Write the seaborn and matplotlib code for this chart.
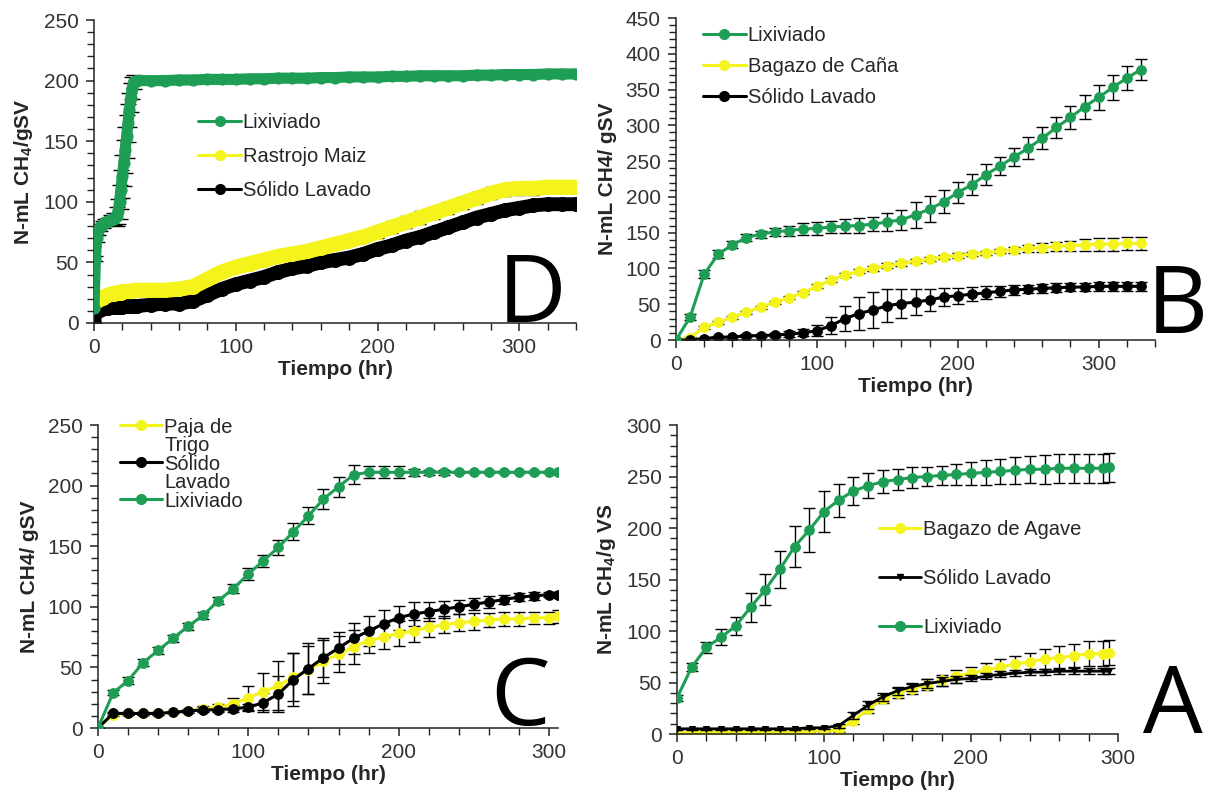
import matplotlib
matplotlib.use("Agg")
import matplotlib.pyplot as plt
from matplotlib.lines import Line2D
from matplotlib.ticker import MultipleLocator
import numpy as np
import pandas as pd
import seaborn as sns

# ---------------- Panel D: Rastrojo de maíz ----------------
d_time = [0, 1, 2, 3, 4, 6, 8, 10, 12, 14, 16, 17, 18, 19, 20, 21, 22, 23, 24, 25, 26, 27, 28, 30,
          40, 50, 60, 70, 80, 90, 100, 110, 120, 130, 140, 150, 160, 170, 180, 190, 200, 210,
          220, 230, 240, 250, 260, 270, 280, 290, 300, 310, 320, 330, 340]
d_lix = [12, 53, 70, 76, 79, 81, 83, 84, 85, 86, 88, 92, 100, 110, 121, 132, 143, 154, 165, 176, 186, 194, 199, 200,
         200, 200, 200.5, 200.5, 201, 201, 201, 201.5, 201.5, 202, 202, 202, 202.5, 202.5, 203, 203, 203, 203.5,
         203.5, 204, 204, 204, 204, 204.5, 204.5, 205, 205, 205, 205.5, 205.5, 205.5]
d_lix_err = [0, 2, 3, 3, 3, 3, 3, 3, 4, 5, 8, 10, 14, 16, 18, 19, 19, 18, 16, 14, 12, 9, 6, 2,
             1, 1, 1, 1, 1, 1, 1, 1, 1, 1, 1, 1, 1, 1, 1, 1, 1, 1,
             1, 1, 1, 1, 1, 1, 1, 1, 1, 1, 1, 1, 1]
d_maiz = [15, 17, 18, 19, 20, 21, 22, 23, 24, 24, 25, 25, 25, 25, 26, 26, 26, 26, 26, 26, 26, 26, 27, 27,
          27, 27, 28, 30, 36, 42, 46, 49, 52, 55, 57, 59, 62, 65, 68, 71, 75, 79,
          83, 87, 91, 95, 99, 103, 107, 110, 111, 111, 112, 112, 112]
d_maiz_err = [0, 1, 1, 1, 1, 1, 1, 1, 1, 1, 1, 1, 1, 1, 1, 1, 1, 1, 1, 1, 1, 1, 1, 1,
              1, 1, 1, 1, 1, 1, 1, 1, 1, 1, 1, 1, 1, 1, 2, 4, 5, 5,
              5, 5, 5, 5, 5, 5, 5, 5, 5, 5, 5, 5, 5]
d_solido = [0, 9, 10, 11, 11, 12, 12, 12, 13, 13, 13, 13, 13, 13, 13, 14, 14, 14, 14, 14, 14, 14, 14, 14,
            15, 16, 16, 18, 23, 28, 32, 35, 38, 42, 45, 47, 50, 52, 54, 57, 61, 64,
            68, 71, 75, 79, 83, 87, 90, 93, 95, 97, 98, 98, 98]

# ---------------- Panel B: Bagazo de caña ----------------
b_time = [0, 10, 20, 30, 40, 50, 60, 70, 80, 90, 100, 110, 120, 130, 140, 150, 160, 170,
          180, 190, 200, 210, 220, 230, 240, 250, 260, 270, 280, 290, 300, 310, 320, 330]
b_lix = [0, 32, 92, 120, 133, 143, 148, 151, 153, 155, 156, 158, 159, 160, 162, 165, 168, 175,
         183, 193, 206, 217, 231, 243, 256, 268, 282, 297, 311, 326, 339, 353, 366, 378]
b_lix_err = [0, 4, 6, 6, 5, 5, 5, 6, 7, 8, 9, 9, 10, 10, 10, 12, 14, 18,
             18, 16, 15, 15, 15, 13, 13, 15, 15, 15, 16, 17, 17, 17, 17, 15]
b_cana = [0, 3, 18, 25, 32, 39, 46, 53, 59, 66, 75, 84, 91, 96, 100, 104, 107, 110,
          113, 116, 118, 120, 122, 124, 126, 128, 129, 131, 132, 133, 134, 134, 135, 135]
b_cana_err = [0, 1, 2, 2, 2, 2, 2, 2, 2, 2, 3, 3, 3, 3, 3, 3, 3, 3,
              3, 3, 3, 3, 3, 3, 4, 5, 6, 6, 7, 8, 9, 9, 9, 9]
b_solido = [0, 0, 2, 4, 4, 6, 6, 7, 8, 10, 13, 20, 30, 37, 42, 48, 51, 53,
            56, 60, 62, 64, 66, 68, 70, 71, 72, 73, 74, 74, 75, 75, 75, 75]
b_solido_err = [0, 1, 1, 1, 2, 2, 2, 3, 4, 5, 8, 12, 18, 23, 25, 23, 20, 18,
                15, 13, 11, 10, 9, 8, 7, 6, 6, 6, 6, 6, 6, 6, 6, 6]

# ---------------- Panel C: Paja de trigo ----------------
c_time = [0, 10, 20, 30, 40, 50, 60, 70, 80, 90, 100, 110, 120, 130, 140, 150, 160,
          170, 180, 190, 200, 210, 220, 230, 240, 250, 260, 270, 280, 290, 300, 306]
c_trigo = [0, 11, 12, 12, 12, 13, 14, 16, 17, 20, 25, 30, 35, 42, 48, 55, 61,
           67, 72, 75, 78, 80, 83, 85, 87, 88, 89, 90, 90, 91, 91, 92]
c_trigo_err = [0, 1, 1, 1, 1, 1, 2, 2, 3, 5, 10, 15, 20, 20, 20, 18, 15,
               14, 10, 10, 10, 9, 8, 7, 7, 7, 6, 6, 6, 5, 5, 5]
c_solido = [0, 12, 12, 12, 12, 13, 14, 15, 15, 16, 17, 21, 28, 40, 49, 58, 66,
            74, 80, 86, 91, 94, 96, 98, 100, 102, 104, 106, 108, 109, 110, 110]
c_solido_err = [0, 1, 1, 1, 1, 1, 1, 2, 2, 3, 3, 8, 15, 22, 21, 16, 13,
                13, 12, 11, 10, 10, 8, 7, 6, 5, 5, 4, 3, 3, 2, 2]
c_lix = [0, 29, 39, 54, 64, 74, 84, 93, 105, 115, 127, 138, 149, 162, 175, 189, 199,
         209, 211, 211, 211, 211, 211, 211, 211, 211, 211, 211, 211, 211, 211, 211]
c_lix_err = [0, 2, 3, 3, 3, 3, 3, 3, 3, 4, 5, 5, 6, 7, 7, 8, 8,
             8, 5, 5, 5, 3, 2, 2, 1, 1, 1, 1, 1, 1, 1, 1]

# ---------------- Panel A: Bagazo de agave ----------------
a_time = [0, 10, 20, 30, 40, 50, 60, 70, 80, 90, 100, 110, 120, 130, 140, 150,
          160, 170, 180, 190, 200, 210, 220, 230, 240, 250, 260, 270, 280, 290, 294]
a_agave = [0, 2, 2, 2, 2, 2, 2, 2, 2, 3, 3, 4, 13, 24, 34, 40,
           44, 48, 52, 56, 59, 62, 65, 68, 70, 73, 74, 76, 78, 78, 79]
a_agave_err = [0, 1, 1, 1, 1, 1, 1, 1, 1, 1, 1, 2, 3, 4, 4, 5,
               5, 5, 5, 6, 6, 7, 8, 8, 9, 10, 11, 11, 12, 12, 12]
a_solido = [5, 5, 5, 5, 5, 5, 5, 5, 5, 6, 6, 8, 18, 28, 36, 42,
            46, 49, 51, 53, 54, 56, 58, 59, 60, 60, 61, 61, 61, 61, 61]
a_solido_err = [1, 1, 1, 1, 1, 1, 1, 1, 1, 1, 1, 2, 3, 4, 4, 4,
                4, 4, 4, 3, 3, 3, 3, 3, 3, 3, 3, 3, 3, 3, 3]
a_lix = [35, 65, 84, 94, 105, 123, 140, 160, 182, 198, 216, 227, 236, 241, 245, 247,
         249, 250, 251, 252, 253, 254, 255, 256, 257, 257, 258, 258, 258, 258, 259]
a_lix_err = [3, 4, 5, 8, 9, 14, 15, 18, 20, 21, 20, 16, 14, 12, 11, 10,
             10, 9, 9, 10, 11, 12, 12, 13, 13, 14, 14, 14, 14, 14, 14]

GREEN = "#1e9e55"
YELLOW = "#f4f41c"
BLACK = "#000000"

sns.set_theme(style="ticks")
plt.rcParams["font.family"] = ["Liberation Sans", "DejaVu Sans"]
plt.rcParams["mathtext.fontset"] = "custom"
plt.rcParams["mathtext.rm"] = "Liberation Sans"
plt.rcParams["mathtext.bf"] = "Liberation Sans:bold"

W, H = 1209, 805
fig = plt.figure(figsize=(W / 100, H / 100), dpi=100)
fig.patch.set_facecolor("white")


def add_axes_px(x0, y_top, x1, y_bottom):
    return fig.add_axes([x0 / W, 1 - y_bottom / H, (x1 - x0) / W, (y_bottom - y_top) / H])


def series(ax, t, y, err, color, marker="o", ms=7, lw=2.2, ecolor=BLACK, label=None, z=2,
           capsize=4):
    df = pd.DataFrame({"t": t, "y": y})
    if err is not None:
        ax.errorbar(t, y, yerr=err, fmt="none", ecolor=ecolor, elinewidth=1.0,
                    capsize=capsize, capthick=1.0, zorder=z)
    sns.lineplot(data=df, x="t", y="y", ax=ax, color=color, marker=marker,
                 markersize=ms, markeredgecolor=color, linewidth=lw,
                 estimator=None, sort=False, zorder=z + 0.5, legend=False)
    return Line2D([], [], color=color, marker=marker, markersize=7 if ms > 7 else ms,
                  markeredgecolor=color, linewidth=2.2 if lw > 2.2 else lw, label=label)


def style_axes(ax, xmax, ymax, ymajor, ylabel, xminor=20, yminor=10):
    ax.set_xlim(0, xmax)
    ax.set_ylim(0, ymax)
    ax.xaxis.set_major_locator(MultipleLocator(100))
    ax.xaxis.set_minor_locator(MultipleLocator(xminor))
    ax.yaxis.set_major_locator(MultipleLocator(ymajor))
    ax.yaxis.set_minor_locator(MultipleLocator(yminor))
    ax.tick_params(axis="both", which="major", length=6, width=1.1, labelsize=15,
                   pad=5, colors="#222222", labelcolor="#333333")
    ax.tick_params(axis="both", which="minor", length=5, width=1.0, colors="#222222")
    for s in ("top", "right"):
        ax.spines[s].set_visible(False)
    for s in ("left", "bottom"):
        ax.spines[s].set_linewidth(1.1)
        ax.spines[s].set_color("#222222")
    ax.set_xlabel("Tiempo (hr)", fontsize=15, fontweight="bold", labelpad=2)
    ax.set_ylabel(ylabel, fontsize=15, fontweight="bold", labelpad=6)
    ax.set_facecolor("white")


def letter(x, y, s):
    fig.text(x / W, 1 - y / H, s, fontsize=68, family=["Open Sans", "DejaVu Sans"],
             ha="center", va="baseline", color="black")


legend_kw = dict(frameon=False, fontsize=14.5, handlelength=2.1, handletextpad=0.1,
                 borderaxespad=0)

# Panel D
axD = add_axes_px(94, 20, 576, 323)
hD_lix = series(axD, d_time, d_lix, d_lix_err, GREEN, ms=8, lw=8, label="Lixiviado", z=3,
                capsize=6)
hD_maiz = series(axD, d_time, d_maiz, d_maiz_err, YELLOW, ms=10, lw=11, label="Rastrojo Maiz", z=2)
hD_sol = series(axD, d_time, d_solido, None, BLACK, ms=10, lw=10, label="Sólido Lavado", z=1)
style_axes(axD, 340, 250, 50, "N-mL CH$_\\mathbf{4}$/gSV")
axD.legend(handles=[hD_lix, hD_maiz, hD_sol], loc="upper left",
           bbox_to_anchor=(0.2, 0.72), labelspacing=0.75, **legend_kw)
letter(532, 322, "D")

# Panel B
axB = add_axes_px(676, 18, 1155, 340)
hB_lix = series(axB, b_time, b_lix, b_lix_err, GREEN, label="Lixiviado", z=3)
hB_cana = series(axB, b_time, b_cana, b_cana_err, YELLOW, label="Bagazo de Caña", z=2)
hB_sol = series(axB, b_time, b_solido, b_solido_err, BLACK, label="Sólido Lavado", z=2)
style_axes(axB, 340, 450, 50, "N-mL CH4/ gSV")
axB.legend(handles=[hB_lix, hB_cana, hB_sol], loc="upper left",
           bbox_to_anchor=(0.04, 1.0), labelspacing=0.6, **legend_kw)
letter(1177, 333, "B")

# Panel C
axC = add_axes_px(98, 425, 558, 728)
hC_trigo = series(axC, c_time, c_trigo, c_trigo_err, YELLOW, label="Paja de\nTrigo", z=2)
hC_sol = series(axC, c_time, c_solido, c_solido_err, BLACK, label="Sólido\nLavado", z=2.2)
hC_lix = series(axC, c_time, c_lix, c_lix_err, GREEN, label="Lixiviado", z=3)
style_axes(axC, 306, 250, 50, "N-mL CH4/ gSV")
legC = axC.legend(handles=[hC_trigo, hC_sol, hC_lix], loc="upper left",
                  bbox_to_anchor=(0.03, 1.05), labelspacing=0.0, **legend_kw)
for col in legC._legend_handle_box.get_children():
    for row in col.get_children():
        row.align = "top"
for txt in legC.get_texts():
    txt.set_linespacing(0.95)
letter(520, 725, "C")

# Panel A
axA = add_axes_px(677, 425, 1118, 734)
hA_lix = series(axA, a_time, a_lix, a_lix_err, GREEN, label="Lixiviado", z=3)
hA_agave = series(axA, a_time, a_agave, a_agave_err, YELLOW, label="Bagazo de Agave", z=2)
hA_sol = series(axA, a_time, a_solido, a_solido_err, BLACK, marker="v", ms=4,
                lw=2.0, label="Sólido Lavado", z=2.5)
style_axes(axA, 300, 300, 50, "N-mL CH$_\\mathbf{4}$/g VS")
axA.legend(handles=[hA_agave, hA_sol, hA_lix], loc="upper left",
           bbox_to_anchor=(0.44, 0.72), labelspacing=1.5, **legend_kw)
letter(1173, 733, "A")

fig.savefig("out.png", dpi=100, facecolor="white")
